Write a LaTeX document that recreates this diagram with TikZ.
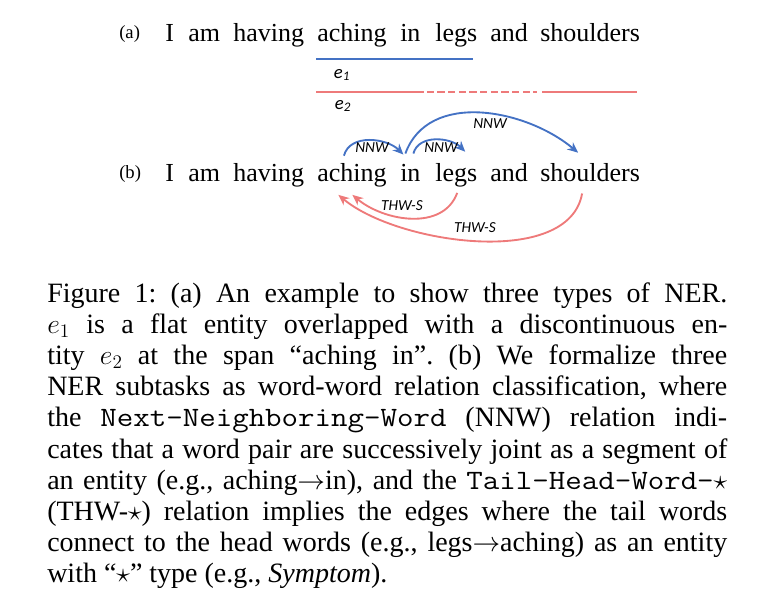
\documentclass[tikz,border=0pt]{standalone}
\usepackage{fontspec}
\setmainfont{Liberation Serif}
\setmonofont[FakeStretch=1.143]{Latin Modern Mono}
\newfontfamily\calibri{Carlito}
\usetikzlibrary{arrows.meta, positioning, calc}
\definecolor{nnwc}{RGB}{68,114,196}
\definecolor{thwc}{RGB}{238,122,122}

\tikzset{
  word/.style={inner sep=0pt, anchor=base west, font=\fontsize{19.5}{23}\selectfont},
  tag/.style={inner sep=0pt, anchor=base west, font=\fontsize{14}{16}\selectfont},
  rel/.style={inner sep=0pt, font=\calibri\itshape\fontsize{11.5}{13}\selectfont},
  ent/.style={inner sep=0pt, font=\calibri\itshape\fontsize{14}{16}\selectfont},
  capline/.style={inner sep=0pt, anchor=base west, font=\fontsize{21}{23.4}\selectfont\frenchspacing},
  span/.style={line width=1.5pt},
  nnw/.style={nnwc, line width=1.4pt, -{Stealth[length=8pt,width=7pt]}},
  thw/.style={thwc, line width=1.4pt, -{Stealth[length=8pt,width=7pt]}},
}

\begin{document}
\begin{tikzpicture}[x=0.75pt, y=0.75pt]
  \useasboundingbox (0,0) rectangle (764,-610);
  % (a) sentence with entity spans
  \node[tag] (la) at (119,-39) {(a)};
  \foreach \w/\x in {I/165, am/188, having/233, aching/317, in/400, legs/435, and/490, shoulders/540}
    \node[word] (a-\w) at (\x,-42) {\w};
  \draw[span, nnwc] ($(a-aching.base west)+(-1,-17)$) -- ($(a-legs.base east)+(-4,-17)$);
  \node[ent] (e1) at (342,-75) {e\textsubscript{1}};
  \draw[span, thwc] ($(a-aching.base west)+(-1,-50)$) -- ($(a-in.base east)+(3,-50)$);
  \draw[span, thwc, dash pattern=on 5.5pt off 2.5pt] ($(a-in.base east)+(6,-50)$) -- ($(a-shoulders.base west)+(-3,-50)$);
  \draw[span, thwc] ($(a-shoulders.base west)+(2,-50)$) -- ($(a-shoulders.base east)+(-3,-50)$);
  \node[ent] (e2) at (343,-106) {e\textsubscript{2}};
  % (b) sentence with word-word relations
  \node[tag] (lb) at (119,-178) {(b)};
  \foreach \w/\x in {I/165, am/188, having/233, aching/317, in/400, legs/435, and/490, shoulders/540}
    \node[word] (b-\w) at (\x,-181) {\w};
  % NNW
  \draw[nnw] ($(b-aching.north)+(-8,7)$) to[out=75,in=135] ($(b-in.north)+(-7,9)$);
  \draw[nnw] ($(b-in.north)+(3,10)$) to[out=75,in=135] ($(b-legs.north)+(9,11)$);
  \draw[nnw] ($(b-in.north)+(-5,10)$) to[out=70,in=140] ($(b-shoulders.north)+(-12,10)$);
  \node[rel] (n1) at (372,-148) {NNW};
  \node[rel] (n2) at (441,-148) {NNW};
  \node[rel] (n3) at (490,-124) {NNW};
  % THW-S
  \draw[thw] ($(b-legs.south)+(1,-6)$) to[out=-110,in=-40] ($(b-aching.south)+(0.5,-8)$);
  \draw[thw] ($(b-shoulders.south)+(-8,-12)$) to[out=-100,in=-40,looseness=0.8] ($(b-aching.south)+(-13.5,-8)$);
  \node[rel] (t1) at (402,-206) {THW-S};
  \node[rel] (t2) at (475,-228) {THW-S};
  % caption
  \node[capline] (cap1) at (47,-302) {\makebox[510pt][s]{Figure 1: (a) An example to show three types of NER.}};
  \node[capline] (cap2) at (47,-333.2) {\makebox[510pt][s]{$e_1$ is a flat entity overlapped with a discontinuous en-}};
  \node[capline] (cap3) at (47,-364.4) {\makebox[510pt][s]{tity $e_2$ at the span “aching in”. (b) We formalize three}};
  \node[capline] (cap4) at (47,-395.6) {\makebox[510pt][s]{NER subtasks as word-word relation classification, where}};
  \node[capline] (cap5) at (47,-426.8) {\makebox[510pt][s]{the \texttt{Next-Neighboring-Word} (NNW) relation indi-}};
  \node[capline] (cap6) at (47,-458) {\makebox[510pt][s]{cates that a word pair are successively joint as a segment of}};
  \node[capline] (cap7) at (47,-489.2) {\makebox[510pt][s]{an entity (e.g., aching$\rightarrow$in), and the \texttt{Tail-Head-Word-$\star$}}};
  \node[capline] (cap8) at (47,-520.4) {\makebox[510pt][s]{(THW-$\star$) relation implies the edges where the tail words}};
  \node[capline] (cap9) at (47,-551.6) {\makebox[510pt][s]{connect to the head words (e.g., legs$\rightarrow$aching) as an entity}};
  \node[capline] (cap10) at (47,-582.8) {with “$\star$” type (e.g., \textit{Symptom}).};
\end{tikzpicture}
\end{document}
